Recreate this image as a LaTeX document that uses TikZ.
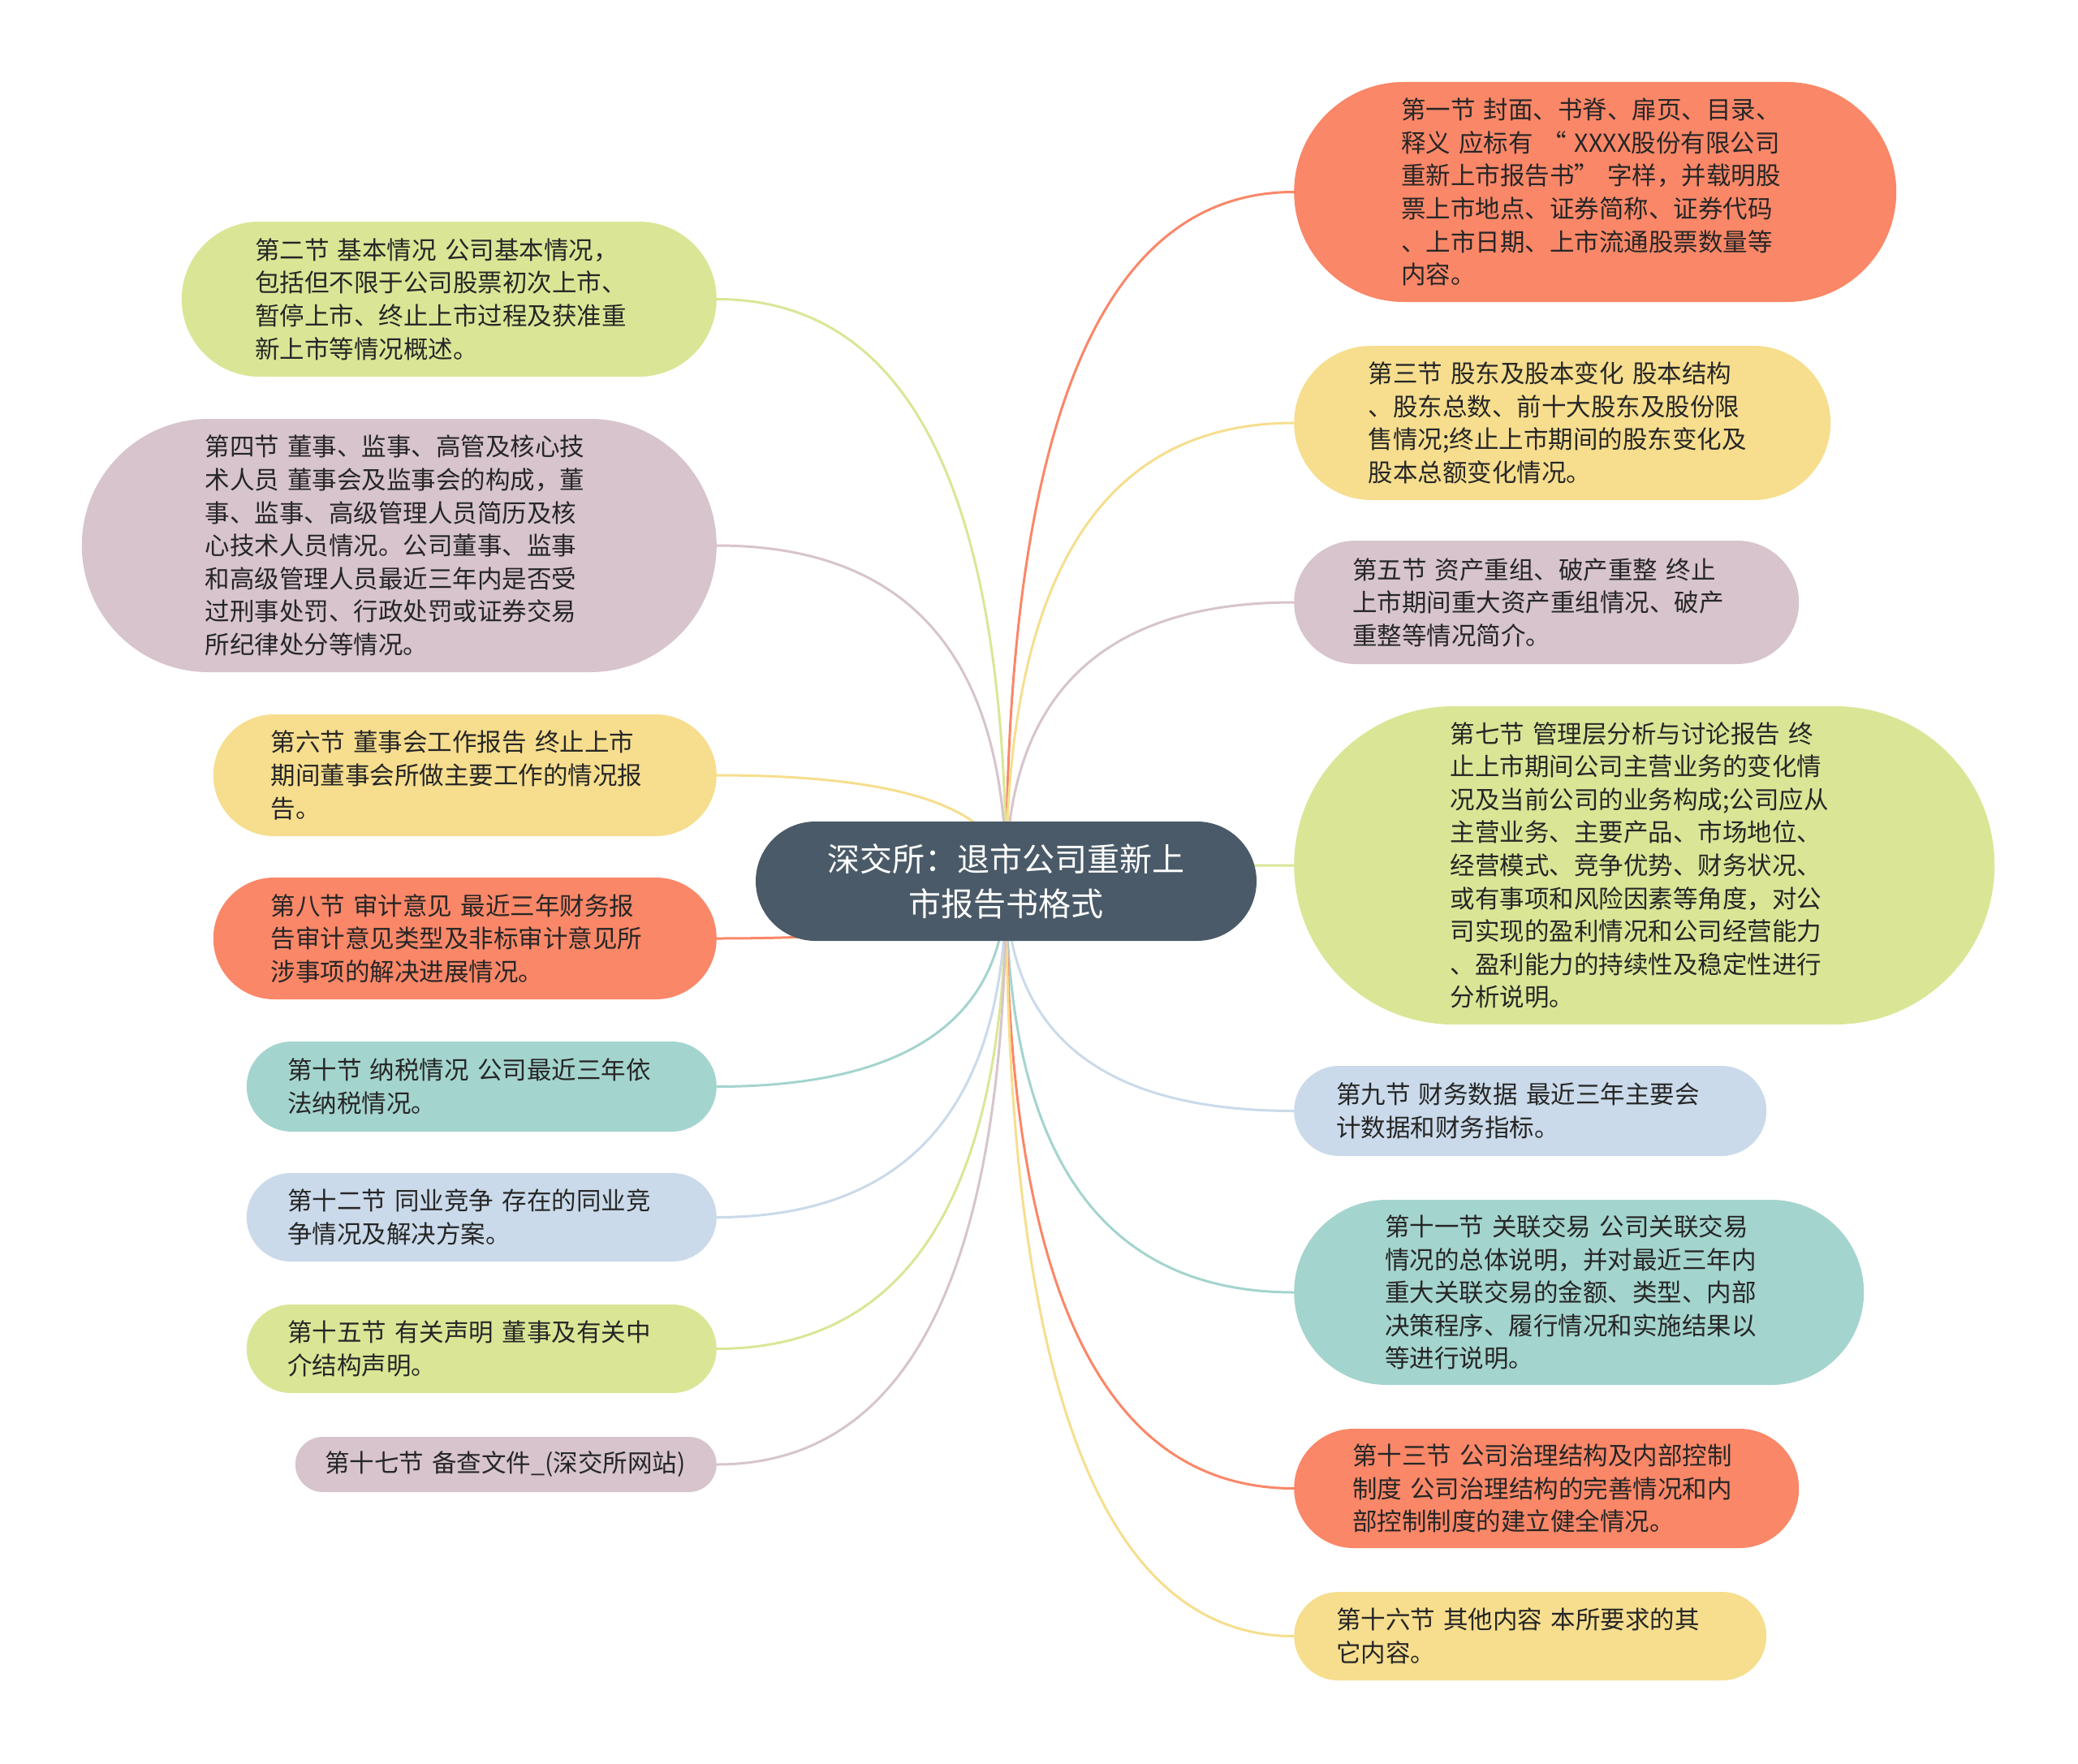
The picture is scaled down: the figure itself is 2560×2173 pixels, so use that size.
\documentclass[tikz,border=0pt]{standalone}
\usepackage{fontspec}
\setmainfont{Noto Sans CJK SC}
\usepackage{tikz}
\usetikzlibrary{shapes.misc, calc, backgrounds}
\usepackage{xcolor}
\definecolor{cOrange}{RGB}{250,135,104}
\definecolor{cYellow}{RGB}{246,222,142}
\definecolor{cMauve}{RGB}{215,196,205}
\definecolor{cGreen}{RGB}{218,230,150}
\definecolor{cBlue}{RGB}{202,218,234}
\definecolor{cTeal}{RGB}{164,212,206}
\definecolor{cHub}{RGB}{74,90,104}
\tikzset{
  topic/.style={
    rounded rectangle, fill=#1, draw=none, inner sep=0pt,
    text width=478pt, align=left, text=black!85,
    font=\fontsize{30.5pt}{40.6pt}\selectfont
  },
  hub/.style={
    rounded rectangle, fill=cHub, draw=none, inner sep=0pt,
    minimum width=617pt, minimum height=147pt,
    align=center, text=white,
    font=\fontsize{40pt}{55pt}\selectfont
  },
  spoke/.style={
    line width=3pt, draw=#1,
    to path={.. controls ($(\tikztostart)!2/3!(\tikztostart |- \tikztotarget)$)
      and ($(\tikztotarget)!2/3!(\tikztostart |- \tikztotarget)$) .. (\tikztotarget)}
  }
}

\begin{document}
\begin{tikzpicture}[x=1pt, y=-1pt]
\useasboundingbox (0,0) rectangle (2560,2173);

% Centre
\node[hub] (hub) at (1239.5,1085.5) {深交所：退市公司重新上\\市报告书格式};

% Right branches
\node[topic=cOrange, anchor=west, minimum width=742pt, minimum height=271pt] (s1) at (1594,236.5)
  {第一节 封面、书脊、扉页、目录、\\释义 应标有 “ XXXX股份有限公司\\重新上市报告书” 字样，并载明股\\票上市地点、证券简称、证券代码\\、上市日期、上市流通股票数量等\\内容。};
\node[topic=cYellow, anchor=west, minimum width=661pt, minimum height=190pt] (s3) at (1594,521)
  {第三节 股东及股本变化 股本结构\\、股东总数、前十大股东及股份限\\售情况;终止上市期间的股东变化及\\股本总额变化情况。};
\node[topic=cMauve, anchor=west, minimum width=622pt, minimum height=152pt] (s5) at (1594,742)
  {第五节 资产重组、破产重整 终止\\上市期间重大资产重组情况、破产\\重整等情况简介。};
\node[topic=cGreen, anchor=west, minimum width=863pt, minimum height=392pt] (s7) at (1594,1066)
  {第七节 管理层分析与讨论报告 终\\止上市期间公司主营业务的变化情\\况及当前公司的业务构成;公司应从\\主营业务、主要产品、市场地位、\\经营模式、竞争优势、财务状况、\\或有事项和风险因素等角度，对公\\司实现的盈利情况和公司经营能力\\、盈利能力的持续性及稳定性进行\\分析说明。};
\node[topic=cBlue, anchor=west, minimum width=582pt, minimum height=111pt] (s9) at (1594,1368.5)
  {第九节 财务数据 最近三年主要会\\计数据和财务指标。};
\node[topic=cTeal, anchor=west, minimum width=702pt, minimum height=228pt] (s11) at (1594,1592)
  {第十一节 关联交易 公司关联交易\\情况的总体说明，并对最近三年内\\重大关联交易的金额、类型、内部\\决策程序、履行情况和实施结果以\\等进行说明。};
\node[topic=cOrange, anchor=west, minimum width=622pt, minimum height=147pt] (s13) at (1594,1833.5)
  {第十三节 公司治理结构及内部控制\\制度 公司治理结构的完善情况和内\\部控制制度的建立健全情况。};
\node[topic=cYellow, anchor=west, minimum width=582pt, minimum height=109pt] (s16) at (1594,2015.5)
  {第十六节 其他内容 本所要求的其\\它内容。};

% Left branches
\node[topic=cGreen, anchor=east, minimum width=659pt, minimum height=191pt] (s2) at (883,368.5)
  {第二节 基本情况 公司基本情况，\\包括但不限于公司股票初次上市、\\暂停上市、终止上市过程及获准重\\新上市等情况概述。};
\node[topic=cMauve, anchor=east, minimum width=782pt, minimum height=312pt] (s4) at (883,672)
  {第四节 董事、监事、高管及核心技\\术人员 董事会及监事会的构成，董\\事、监事、高级管理人员简历及核\\心技术人员情况。公司董事、监事\\和高级管理人员最近三年内是否受\\过刑事处罚、行政处罚或证券交易\\所纪律处分等情况。};
\node[topic=cYellow, anchor=east, minimum width=620pt, minimum height=150pt] (s6) at (883,955)
  {第六节 董事会工作报告 终止上市\\期间董事会所做主要工作的情况报\\告。};
\node[topic=cOrange, anchor=east, minimum width=620pt, minimum height=150pt] (s8) at (883,1156)
  {第八节 审计意见 最近三年财务报\\告审计意见类型及非标审计意见所\\涉事项的解决进展情况。};
\node[topic=cTeal, anchor=east, minimum width=579pt, minimum height=111pt] (s10) at (883,1338.5)
  {第十节 纳税情况 公司最近三年依\\法纳税情况。};
\node[topic=cBlue, anchor=east, minimum width=579pt, minimum height=109pt] (s12) at (883,1499.5)
  {第十二节 同业竞争 存在的同业竞\\争情况及解决方案。};
\node[topic=cGreen, anchor=east, minimum width=579pt, minimum height=109pt] (s15) at (883,1661.5)
  {第十五节 有关声明 董事及有关中\\介结构声明。};
\node[topic=cMauve, anchor=east, minimum width=519pt, minimum height=68pt, text width=446pt] (s17) at (883,1804)
  {第十七节 备查文件\_(深交所网站)};

% Spokes
\begin{scope}[on background layer]
\draw[spoke=cOrange] (hub.center) to (s1.west);
\draw[spoke=cYellow] (hub.center) to (s3.west);
\draw[spoke=cMauve] (hub.center) to (s5.west);
\draw[spoke=cGreen] (hub.center) to (s7.west);
\draw[spoke=cBlue] (hub.center) to (s9.west);
\draw[spoke=cTeal] (hub.center) to (s11.west);
\draw[spoke=cOrange] (hub.center) to (s13.west);
\draw[spoke=cYellow] (hub.center) to (s16.west);
\draw[spoke=cGreen] (hub.center) to (s2.east);
\draw[spoke=cMauve] (hub.center) to (s4.east);
\draw[spoke=cYellow] (hub.center) to (s6.east);
\draw[spoke=cOrange] (hub.center) to (s8.east);
\draw[spoke=cTeal] (hub.center) to (s10.east);
\draw[spoke=cBlue] (hub.center) to (s12.east);
\draw[spoke=cGreen] (hub.center) to (s15.east);
\draw[spoke=cMauve] (hub.center) to (s17.east);
\end{scope}

\end{tikzpicture}
\end{document}
